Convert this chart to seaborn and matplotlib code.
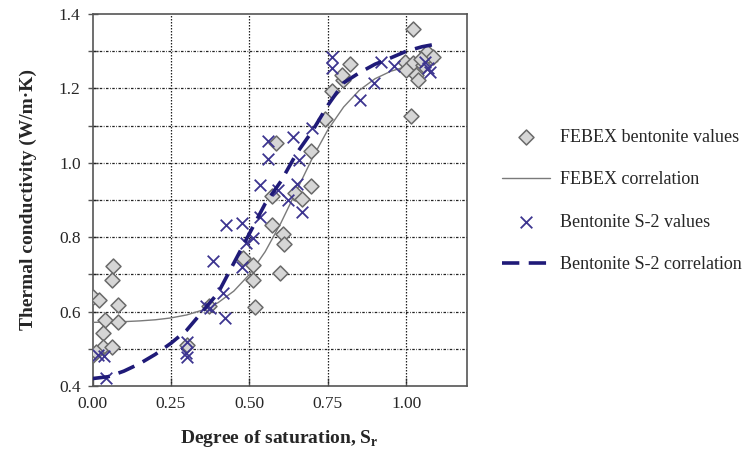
import numpy as np
import pandas as pd
import matplotlib
matplotlib.use("Agg")
import matplotlib.pyplot as plt
from matplotlib.ticker import MultipleLocator
import seaborn as sns

# ---- data ----
febex_sr = [0.066, 0.061, 0.000, 0.022, 0.082, 0.040, 0.082, 0.034, 0.034, 0.063, 0.000, 0.012,
            0.300, 0.370, 0.480, 0.512, 0.512, 0.518, 0.597, 0.571, 0.571, 0.583, 0.608, 0.611,
            0.645, 0.668, 0.696, 0.696, 0.742, 0.762, 0.797, 0.794, 0.820,
            1.022, 1.016, 1.064, 1.085, 0.995, 1.022, 1.000, 1.032, 1.038, 1.053, 1.045]
febex_k = [0.723, 0.685, 0.638, 0.631, 0.618, 0.577, 0.573, 0.543, 0.506, 0.506, 0.483, 0.492,
           0.510, 0.615, 0.743, 0.725, 0.685, 0.613, 0.703, 0.911, 0.833, 1.054, 0.809, 0.782,
           0.918, 0.902, 1.033, 0.938, 1.117, 1.193, 1.223, 1.236, 1.265,
           1.360, 1.126, 1.299, 1.285, 1.272, 1.267, 1.249, 1.236, 1.223, 1.263, 1.280]

s2_sr = [0.036, 0.018, 0.043, 0.300, 0.297, 0.300, 0.361, 0.374, 0.383, 0.417, 0.422, 0.425,
         0.475, 0.475, 0.489, 0.512, 0.533, 0.533, 0.560, 0.560, 0.592, 0.624, 0.640, 0.653,
         0.658, 0.666, 0.700, 0.762, 0.762, 0.852, 0.896, 0.920, 0.960, 1.070, 1.075, 1.060]
s2_k = [0.481, 0.483, 0.421, 0.519, 0.490, 0.478, 0.615, 0.609, 0.737, 0.649, 0.582, 0.833,
        0.839, 0.721, 0.784, 0.797, 0.853, 0.940, 1.059, 1.009, 0.927, 0.900, 1.070, 0.943,
        1.008, 0.869, 1.093, 1.285, 1.254, 1.169, 1.214, 1.272, 1.260, 1.254, 1.245, 1.270]

corr_sr = [0.00, 0.05, 0.10, 0.15, 0.20, 0.25, 0.30, 0.35, 0.40, 0.45, 0.50, 0.55,
           0.60, 0.65, 0.70, 0.75, 0.80, 0.85, 0.90, 0.95, 1.00, 1.05, 1.10]
febex_corr = [0.571, 0.572, 0.573, 0.575, 0.578, 0.583, 0.591, 0.604, 0.624, 0.655, 0.700, 0.761,
              0.838, 0.925, 1.012, 1.089, 1.150, 1.195, 1.226, 1.246, 1.259, 1.267, 1.272]
s2_corr = [0.420, 0.425, 0.440, 0.460, 0.485, 0.515, 0.550, 0.600, 0.650, 0.730, 0.810, 0.890,
           0.950, 1.025, 1.085, 1.155, 1.215, 1.242, 1.265, 1.282, 1.300, 1.312, 1.320]

x_ticks = [0.00, 0.25, 0.50, 0.75, 1.00]
x_tick_labels = ["0.00", "0.25", "0.50", "0.75", "1.00"]
y_ticks = [0.4, 0.6, 0.8, 1.0, 1.2, 1.4]
y_tick_labels = ["0.4", "0.6", "0.8", "1.0", "1.2", "1.4"]

# ---- style ----
sns.set_theme(style="white")
plt.rcParams["font.family"] = ["Liberation Serif", "DejaVu Serif"]
plt.rcParams["mathtext.fontset"] = "custom"
plt.rcParams["mathtext.rm"] = "Liberation Serif:bold"

fig = plt.figure(figsize=(7.52, 4.54), dpi=100)
ax = fig.add_axes([92.5 / 752, 1 - 386 / 454, (467 - 92.5) / 752, (386 - 14) / 454])

df_f = pd.DataFrame({"Sr": febex_sr, "k": febex_k})
df_s = pd.DataFrame({"Sr": s2_sr, "k": s2_k})
df_cf = pd.DataFrame({"Sr": corr_sr, "k": febex_corr})
df_cs = pd.DataFrame({"Sr": corr_sr, "k": s2_corr})

sns.lineplot(data=df_cf, x="Sr", y="k", ax=ax, color="#7a7a7a", lw=1.0,
             sort=False, estimator=None, label="FEBEX correlation", zorder=3)
sns.scatterplot(data=df_f, x="Sr", y="k", ax=ax, marker="D", s=58,
                facecolor="#d6d6d6", edgecolor="#6a6a6a", linewidth=1.1,
                label="FEBEX bentonite values", zorder=4)
sns.scatterplot(data=df_s, x="Sr", y="k", ax=ax, marker="x", s=70,
                color="#3d3590", linewidth=1.3,
                label="Bentonite S-2 values", zorder=5)
sns.lineplot(data=df_cs, x="Sr", y="k", ax=ax, color="#1f1a78", lw=2.6,
             sort=False, estimator=None, label="Bentonite S-2 correlation",
             dashes=False, zorder=6)
ax.lines[-1].set_dashes([4.8, 2.6])

ax.set_xlim(0, 1.193)
ax.set_ylim(0.4, 1.4)
ax.set_xticks(x_ticks)
ax.set_xticklabels(x_tick_labels)
ax.set_yticks(y_ticks)
ax.set_yticklabels(y_tick_labels)
ax.yaxis.set_minor_locator(MultipleLocator(0.1))

ax.grid(False)
for yv in np.arange(0.5, 1.35, 0.1):
    ax.axhline(yv, color="#222222", lw=0.9, ls=(0, (2.0, 1.2, 0.6, 1.2)), zorder=1)
for xv in x_ticks[1:]:
    ax.axvline(xv, color="#222222", lw=0.9, ls=(0, (1.2, 1.2)), zorder=1)

for sp in ax.spines.values():
    sp.set_color("#555555")
    sp.set_linewidth(1.2)

ax.tick_params(axis="y", which="both", direction="inout", length=7, width=1.0,
               color="#555555", labelsize=12.5, pad=5, left=True)
ax.tick_params(axis="x", which="both", direction="in", length=6, width=1.0,
               color="#555555", labelsize=12.5, pad=7, bottom=True)

ax.set_xlabel(r"Degree of saturation, S$_\mathrm{r}$", fontsize=14, fontweight="bold",
              labelpad=12)
ax.set_ylabel("Thermal conductivity (W/m·K)", fontsize=14, fontweight="bold", labelpad=16)

handles, labels = ax.get_legend_handles_labels()
order = ["FEBEX bentonite values", "FEBEX correlation", "Bentonite S-2 values",
         "Bentonite S-2 correlation"]
hmap = dict(zip(labels, handles))
ax.get_legend().remove()
fig.legend([hmap[k] for k in order], order, loc="upper left",
           bbox_to_anchor=(502 / 752, 1 - 129 / 454), frameon=False,
           fontsize=13, handlelength=2.66, handletextpad=0.55, labelspacing=1.4,
           borderpad=0, borderaxespad=0)

fig.savefig("out.png", dpi=100)
